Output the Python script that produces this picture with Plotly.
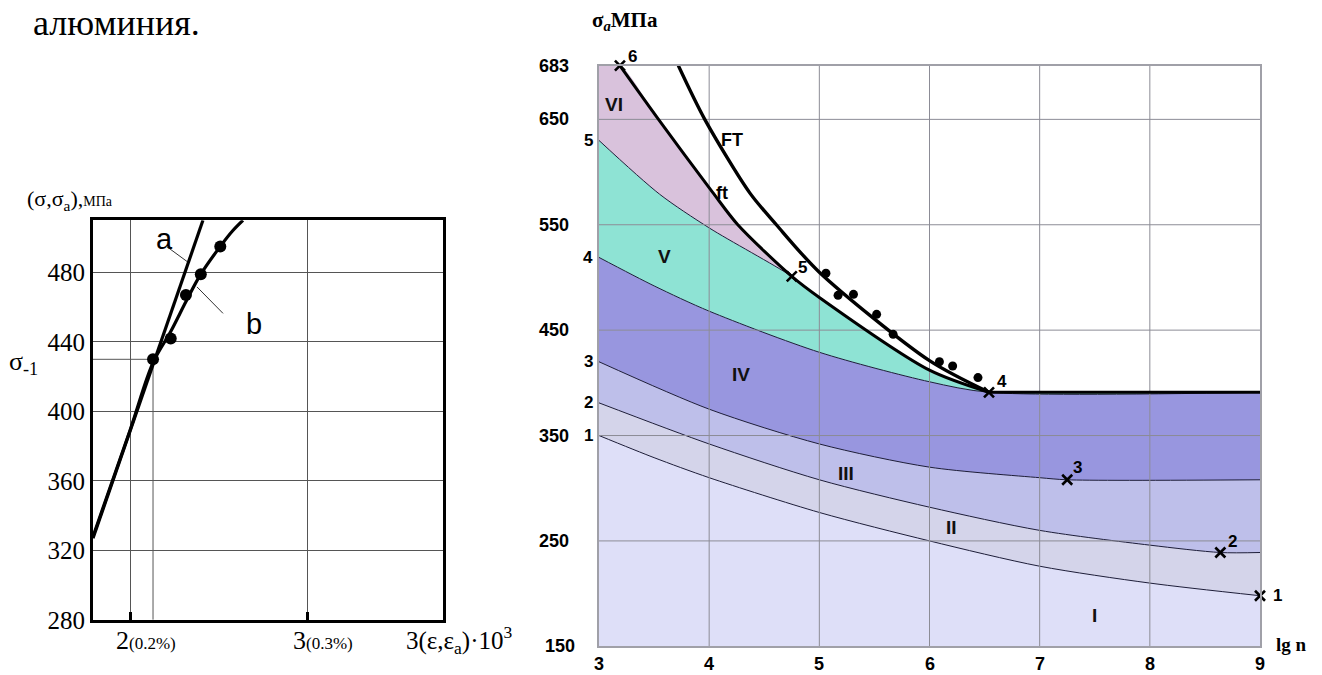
import plotly.graph_objects as go

W, H = 1322, 675

# ---------------- left chart: stress vs strain ----------------
strain_a = [1.791, 2.412]
stress_a = [327, 510]
strain_b = [1.791, 2.0, 2.13, 2.23, 2.32, 2.40, 2.51, 2.58, 2.638]
stress_b = [328, 389, 428, 446, 464, 479, 495, 504, 510]
strain_pts = [2.13, 2.23, 2.316, 2.40, 2.51]
stress_pts = [430, 442, 467, 479, 495]
sigma_1 = 430
left_xrange = [1.791, 3.768]
left_yrange = [280, 510]
left_yticks = [280, 320, 360, 400, 440, 480]
left_xticks = [2, 3]
left_xticktext = ["2<span style='font-size:17px'>(0.2%)</span>",
                  "3<span style='font-size:17px'>(0.3%)</span>"]

# ---------------- right chart: fatigue zones ----------------
lg_c1 = [3, 3.5, 4, 5, 6, 7, 8, 9]
s_c1 = [350, 329, 310, 277, 250, 226, 210, 198]
lg_c2 = [3, 4, 5, 6, 7, 8, 8.64, 9]
s_c2 = [381, 342, 308, 282, 260, 246, 239, 239]
lg_c3 = [3, 4, 5, 6, 7, 7.25, 9]
s_c3 = [420, 375, 342, 320, 310, 308, 308]
lg_c4 = [3, 3.5, 4, 5, 6, 6.54]
s_c4 = [519, 492, 468, 429, 401, 391]
lg_c5 = [3, 3.55, 4, 4.75]
s_c5 = [630, 579, 547, 501]
lg_ft = [3.19, 3.54, 4.03, 4.26, 4.75, 5.0, 6.0, 6.54]
s_ft = [701, 650, 581, 550, 501, 481, 412, 391]
lg_FT = [3.72, 3.96, 4.37, 4.61, 5.0, 6.0, 6.54]
s_FT = [701, 650, 580, 550, 505, 421, 391]
lg_exp = [5.06, 5.17, 5.31, 5.52, 5.67, 6.09, 6.21, 6.44]
s_exp = [504, 483, 484, 465, 446, 420, 416, 405]
s_limit = 391
pt_names = ["1", "2", "3", "4", "5", "6"]
pt_lg = [9, 8.64, 7.25, 6.54, 4.75, 3.19]
pt_s = [198, 239, 308, 391, 501, 701]
pt_label_shift = [(17, 0), (12, -11), (10, -12), (13, -11), (11, -9), (13, -9)]
start_names = ["1", "2", "3", "4", "5"]
start_s = [s_c1[0], s_c2[0], s_c3[0], s_c4[0], s_c5[0]]
zone_names = ["I", "II", "III", "IV", "V", "VI"]
zone_lg = [7.50, 6.20, 5.24, 4.29, 3.59, 3.136]
zone_s = [179, 263, 314, 408, 520, 664]
zone_colors = ["#DEDFF8", "#D4D4EA", "#BEBFEA", "#9896DF", "#8EE3D4", "#D9C2DC"]
right_xrange = [3, 9]
right_yrange = [150, 701]
right_xticks = [3, 4, 5, 6, 7, 8, 9]
right_yticks = [150, 250, 350, 450, 550, 650, 701]
right_yticktext = ["150", "250", "350", "450", "550", "650", "683"]

SERIF = "Liberation Serif"
SANS = "Liberation Sans"
THIN = "#1c1c38"


def px(x):
    return x / W


def py(y):
    return 1 - y / H


fig = go.Figure()

# left chart traces
fig.add_trace(go.Scatter(x=[left_xrange[0], strain_pts[0], strain_pts[0]],
                         y=[sigma_1, sigma_1, left_yrange[0]], mode="lines",
                         line=dict(color="#555", width=1), xaxis="x", yaxis="y"))
fig.add_trace(go.Scatter(x=strain_a, y=stress_a, mode="lines",
                         line=dict(color="black", width=3.2), xaxis="x", yaxis="y"))
fig.add_trace(go.Scatter(x=strain_b, y=stress_b, mode="lines",
                         line=dict(color="black", width=3.2, shape="spline"),
                         xaxis="x", yaxis="y"))
fig.add_trace(go.Scatter(x=strain_pts, y=stress_pts, mode="markers",
                         marker=dict(color="black", size=12), xaxis="x", yaxis="y"))

# right chart: stacked zone fills
upper_lg = [
    lg_c1,
    lg_c2,
    lg_c3,
    lg_c4 + [9],
    lg_c5 + lg_ft[5:],
    [3] + lg_ft,
]
upper_s = [
    s_c1,
    s_c2,
    s_c3,
    s_c4 + [s_limit],
    s_c5 + s_ft[5:],
    [right_yrange[1]] + s_ft,
]
for i in range(6):
    fig.add_trace(go.Scatter(
        x=upper_lg[i], y=upper_s[i], mode="lines",
        line=dict(color=THIN, width=1 if i < 5 else 0, shape="spline", smoothing=0.8),
        fill="tozeroy" if i == 0 else "tonexty", fillcolor=zone_colors[i],
        xaxis="x2", yaxis="y2"))

# grid drawn over the zones
gx, gy = [], []
for v in right_xticks[1:-1]:
    gx += [v, v, None]
    gy += [right_yrange[0], right_yrange[1], None]
for v in right_yticks[1:-1]:
    gx += [right_xrange[0], right_xrange[1], None]
    gy += [v, v, None]
fig.add_trace(go.Scatter(x=gx, y=gy, mode="lines", line=dict(color="#8c8c96", width=1),
                         xaxis="x2", yaxis="y2"))

# thick curves
fig.add_trace(go.Scatter(x=lg_ft, y=s_ft, mode="lines",
                         line=dict(color="black", width=3, shape="spline", smoothing=0.8),
                         xaxis="x2", yaxis="y2"))
fig.add_trace(go.Scatter(x=lg_FT, y=s_FT, mode="lines",
                         line=dict(color="black", width=3.4, shape="spline", smoothing=0.8),
                         xaxis="x2", yaxis="y2"))
fig.add_trace(go.Scatter(x=[lg_c4[-1], 9], y=[s_limit, s_limit], mode="lines",
                         line=dict(color="black", width=3), xaxis="x2", yaxis="y2"))
fig.add_trace(go.Scatter(x=lg_exp, y=s_exp, mode="markers",
                         marker=dict(color="black", size=9), xaxis="x2", yaxis="y2"))
fig.add_trace(go.Scatter(x=pt_lg, y=pt_s, mode="markers", cliponaxis=False,
                         marker=dict(symbol="x-thin", size=10, color="black",
                                     line=dict(color="black", width=2.6)),
                         xaxis="x2", yaxis="y2"))

ann = []
# left chart text
ann.append(dict(text="алюминия.", x=px(31), y=py(23), xref="paper", yref="paper",
                xanchor="left", yanchor="middle", showarrow=False,
                font=dict(family=SERIF, size=36, color="black")))
ann.append(dict(text="(σ,σ<sub>a</sub>),<span style='font-size:14px'>МПа</span>",
                x=px(25), y=py(204), xref="paper", yref="paper", xanchor="left",
                yanchor="middle", showarrow=False,
                font=dict(family=SERIF, size=22, color="black")))
ann.append(dict(text="σ<sub>-1</sub>", x=px(7), y=py(371), xref="paper", yref="paper",
                xanchor="left", yanchor="middle", showarrow=False,
                font=dict(family=SERIF, size=26, color="black")))
for v, t in zip(left_xticks, left_xticktext):
    ann.append(dict(text=t, x=v, y=py(654), xref="x", yref="paper", xanchor="left",
                    xshift=-16, yanchor="middle", showarrow=False,
                    font=dict(family=SERIF, size=26, color="black")))
ann.append(dict(text="3(ε,ε<sub>a</sub>)·10<sup>3</sup>", x=px(404), y=py(654),
                xref="paper", yref="paper", xanchor="left", yanchor="middle",
                showarrow=False, font=dict(family=SERIF, size=25, color="black")))
ann.append(dict(text="a", x=px(154), y=py(244), xref="paper", yref="paper",
                showarrow=False, font=dict(family=SANS, size=29, color="black")))
ann.append(dict(text="b", x=px(244), y=py(331), xref="paper", yref="paper",
                showarrow=False, font=dict(family=SANS, size=29, color="black")))

# right chart text
for v, t in zip(right_yticks, right_yticktext):
    ann.append(dict(text="<b>%s</b>" % t, x=px(577 if t == "150" else 571), y=v,
                    xref="paper", yref="y2", xanchor="right", yanchor="middle",
                    showarrow=False, font=dict(family=SANS, size=18, color="black")))
for v in right_xticks:
    ann.append(dict(text="<b>%d</b>" % v, x=v, y=py(666), xref="x2", yref="paper",
                    xanchor="center", yanchor="top", showarrow=False,
                    font=dict(family=SANS, size=18, color="black")))
for n, v in zip(start_names, start_s):
    ann.append(dict(text="<b>%s</b>" % n, x=3, y=v, xref="x2", yref="y2",
                    xshift=-11, showarrow=False,
                    font=dict(family=SANS, size=17, color="black")))
for n, xl, yl in zip(zone_names, zone_lg, zone_s):
    ann.append(dict(text="<b>%s</b>" % n, x=xl, y=yl, xref="x2", yref="y2",
                    showarrow=False, font=dict(family=SANS, size=19, color="#111")))
for n, xl, yl, (dx, dy) in zip(pt_names, pt_lg, pt_s, pt_label_shift):
    ann.append(dict(text="<b>%s</b>" % n, x=xl, y=yl, xref="x2", yref="y2",
                    xshift=dx, yshift=-dy, showarrow=False,
                    font=dict(family=SANS, size=17, color="black")))
ann.append(dict(text="<b>FT</b>", x=4.21, y=630, xref="x2", yref="y2", showarrow=False,
                font=dict(family=SANS, size=18, color="black")))
ann.append(dict(text="<b>ft</b>", x=4.12, y=580, xref="x2", yref="y2", showarrow=False,
                font=dict(family=SANS, size=18, color="black")))
ann.append(dict(text="<b>σ<sub><i>a</i></sub>МПа</b>", x=px(590), y=py(21),
                xref="paper", yref="paper", xanchor="left", yanchor="middle",
                showarrow=False, font=dict(family=SERIF, size=21, color="black")))
ann.append(dict(text="<b>lg n</b>", x=px(1274), y=py(658), xref="paper", yref="paper",
                xanchor="left", yanchor="middle", showarrow=False,
                font=dict(family=SERIF, size=19, color="black")))

# leader lines for the a / b labels
shapes = [
    dict(type="line", xref="paper", yref="paper", x0=px(167), y0=py(252),
         x1=px(187), y1=py(267), line=dict(color="#333", width=1)),
    dict(type="line", xref="paper", yref="paper", x0=px(197), y0=py(293),
         x1=px(223), y1=py(320), line=dict(color="#333", width=1)),
]

fig.update_layout(
    width=W, height=H, margin=dict(l=0, r=0, t=0, b=0),
    paper_bgcolor="white", plot_bgcolor="white", showlegend=False,
    annotations=ann, shapes=shapes,
    xaxis=dict(domain=[px(93), px(443)], range=left_xrange, anchor="y",
               tickvals=left_xticks, showticklabels=False, ticks="inside",
               ticklen=8, tickwidth=3, tickcolor="black",
               showgrid=True, gridcolor="#555", gridwidth=1, zeroline=False,
               showline=True, mirror=True, linecolor="black", linewidth=3),
    yaxis=dict(domain=[py(633), py(225)], range=left_yrange, anchor="x",
               tickvals=left_yticks, ticks="", showgrid=True, gridcolor="#555",
               gridwidth=1, zeroline=False, showline=True, mirror=True,
               linecolor="black", linewidth=3,
               tickfont=dict(family=SERIF, size=25, color="black")),
    xaxis2=dict(domain=[px(599), px(1260)], range=right_xrange, anchor="y2",
                showticklabels=False, showgrid=False, zeroline=False, ticks="",
                showline=True, mirror=True, linecolor="#a0a0a8", linewidth=1.5,
                layer="above traces"),
    yaxis2=dict(domain=[py(660), py(67)], range=right_yrange, anchor="x2",
                showticklabels=False, showgrid=False, zeroline=False, ticks="",
                showline=True, mirror=True, linecolor="#a0a0a8", linewidth=1.5,
                layer="above traces"),
)

# keep the page exactly the figure's size: text running past the lower edge is cut off
clip_js = (
    "var gd=document.getElementById('{plot_id}');"
    "gd.style.overflow='hidden';gd.style.height='%dpx';"
    "var s=gd.querySelectorAll('.svg-container');"
    "for(var i=0;i<s.length;i++){s[i].style.overflow='hidden';}"
    "document.documentElement.style.overflow='hidden';"
    "document.body.style.overflow='hidden';"
    "document.body.style.margin='0';" % H
)

fig.write_html("out.html", post_script=clip_js)
